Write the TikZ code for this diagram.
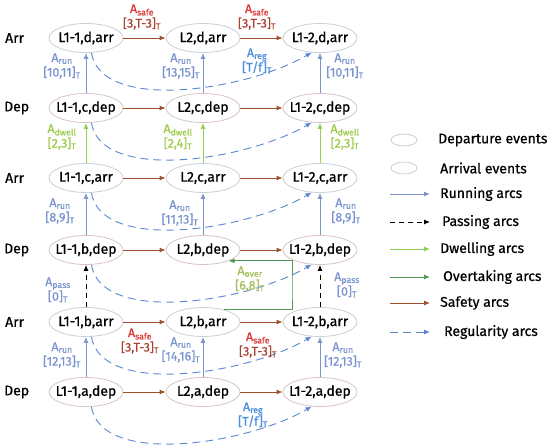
\documentclass[tikz,border=0pt]{standalone}
\usepackage{fontspec}
\setmainfont{Fira Sans}[FakeBold=0.7]
\usetikzlibrary{shapes.geometric,arrows.meta}
\definecolor{runc}{HTML}{7B94CE}
\definecolor{regc}{HTML}{5A86D2}
\definecolor{reglab}{HTML}{4F8FDB}
\definecolor{dwc}{HTML}{92D050}
\definecolor{dwlab}{HTML}{9CCB4A}
\definecolor{ovc}{HTML}{4E9A52}
\definecolor{ovlab}{HTML}{A2C05E}
\definecolor{safc}{HTML}{A0502D}
\definecolor{safA}{HTML}{D93A36}
\definecolor{safB}{HTML}{A8432F}
\definecolor{depc}{HTML}{D8C4C8}
\definecolor{arrc}{HTML}{C8D0DA}
\newcommand\arclab[4]{{\color{#1}A\textsubscript{#2}}\\{}{\color{#3}#4\textsubscript{T}}}
\newcommand\evt[1]{\makebox[0pt]{#1}}
\begin{document}
\begin{tikzpicture}[x=1pt,y=-1pt,
  ev/.style={ellipse, minimum width=74pt, minimum height=29pt, inner sep=0pt, fill=white, line width=0.8pt, font=\fontsize{14}{16}\selectfont},
  depn/.style={ev, draw=depc},
  arrn/.style={ev, draw=arrc},
  tipx/.style={-{Latex[length=6pt,width=5pt]}},
  runa/.style={draw=runc, line width=0.9pt, tipx},
  passa/.style={draw=black, line width=0.9pt, dash pattern=on 5pt off 4pt, tipx},
  dwa/.style={draw=dwc, line width=0.9pt, tipx},
  ova/.style={draw=ovc, line width=0.9pt, tipx},
  safa/.style={draw=safc, line width=0.9pt, tipx},
  rega/.style={draw=regc, line width=0.9pt, dash pattern=on 8pt off 5pt, tipx},
  lab/.style={align=center, font=\fontsize{12.5}{14.5}\selectfont, inner sep=0pt},
  rowlab/.style={anchor=west, font=\fontsize{14}{16}\selectfont, inner sep=0pt},
  legt/.style={anchor=west, font=\fontsize{14}{16}\selectfont, inner sep=0pt},
  legev/.style={ellipse, minimum width=26pt, minimum height=12pt, inner sep=0pt, line width=0.8pt}
]
\useasboundingbox (0,0) rectangle (550,447);

% row labels
\node[rowlab] (r1) at (5,38) {Arr};
\node[rowlab] (r2) at (4,108) {Dep};
\node[rowlab] (r3) at (5,178) {Arr};
\node[rowlab] (r4) at (4,250) {Dep};
\node[rowlab] (r5) at (5,322) {Arr};
\node[rowlab] (r6) at (4,392) {Dep};

% events
\node[arrn] (1d) at (86,38) {\evt{L1-1,d,arr}};
\node[arrn] (2d) at (203,38) {\evt{L2,d,arr}};
\node[arrn] (3d) at (320,38) {\evt{L1-2,d,arr}};
\node[depn] (1c) at (86,108) {\evt{L1-1,c,dep}};
\node[depn] (2c) at (203,108) {\evt{L2,c,dep}};
\node[depn] (3c) at (320,108) {\evt{L1-2,c,dep}};
\node[arrn] (1ca) at (86,178) {\evt{L1-1,c,arr}};
\node[arrn] (2ca) at (203,178) {\evt{L2,c,arr}};
\node[arrn] (3ca) at (320,178) {\evt{L1-2,c,arr}};
\node[depn] (1b) at (86,250) {\evt{L1-1,b,dep}};
\node[depn] (2b) at (203,250) {\evt{L2,b,dep}};
\node[depn] (3b) at (320,250) {\evt{L1-2,b,dep}};
\node[arrn] (1ba) at (86,322) {\evt{L1-1,b,arr}};
\node[arrn] (2ba) at (203,322) {\evt{L2,b,arr}};
\node[arrn] (3ba) at (320,322) {\evt{L1-2,b,arr}};
\node[depn] (1a) at (86,392) {\evt{L1-1,a,dep}};
\node[depn] (2a) at (203,392) {\evt{L2,a,dep}};
\node[depn] (3a) at (320,392) {\evt{L1-2,a,dep}};

% regularity arcs
\foreach \r in {d,c,ca,b,ba,a}{
  \draw[rega] (1\r.-70) .. controls +(10,60) and +(-65,38) .. (3\r.-120);
}

% safety arcs
\foreach \r in {d,c,ca,b,ba,a}{
  \draw[safa] (1\r.east) -- (2\r.west);
  \draw[safa] (2\r.east) -- (3\r.west);
}

% running and dwelling arcs
\foreach \c in {1,2,3}{
  \draw[runa] (\c c.north) -- (\c d.south);
  \draw[runa] (\c b.north) -- (\c ca.south);
  \draw[runa] (\c a.north) -- (\c ba.south);
  \draw[dwa] (\c ca.north) -- (\c c.south);
}

% passing arcs
\draw[passa] (1ba.north) -- (1b.south);
\draw[passa] (3ba.north) -- (3b.south);

% overtaking arc
\coordinate (ovx) at (292,290);
\draw[ova] (2ba.31) -| (ovx) |- (2b.-23);

% labels
\node[lab] (ls1) at (142,17) {\arclab{safA}{safe}{safB}{[3,T-3]}};
\node[lab] (ls2) at (257,17) {\arclab{safA}{safe}{safB}{[3,T-3]}};
\node[lab] (lr1) at (62,66) {\arclab{runc}{run}{runc}{[10,11]}};
\node[lab] (lr2) at (181,66) {\arclab{runc}{run}{runc}{[13,15]}};
\node[lab] (lr3) at (345,66) {\arclab{runc}{run}{runc}{[10,11]}};
\node[lab] (lg1) at (257,61) {\arclab{reglab}{reg}{reglab}{[T/f]}};
\node[lab] (lw1) at (62,137) {\arclab{dwlab}{dwell}{dwlab}{[2,3]}};
\node[lab] (lw2) at (178,137) {\arclab{dwlab}{dwell}{dwlab}{[2,4]}};
\node[lab] (lw3) at (345,137) {\arclab{dwlab}{dwell}{dwlab}{[2,3]}};
\node[lab] (lr4) at (60,211) {\arclab{runc}{run}{runc}{[8,9]}};
\node[lab] (lr5) at (180,213) {\arclab{runc}{run}{runc}{[11,13]}};
\node[lab] (lr6) at (346,211) {\arclab{runc}{run}{runc}{[8,9]}};
\node[lab] (lp1) at (58,290) {\arclab{runc}{pass}{runc}{[0]}};
\node[lab] (lp2) at (347,285) {\arclab{runc}{pass}{runc}{[0]}};
\node[lab] (lo1) at (250,279) {\arclab{ovlab}{over}{ovlab}{[6,8]}};
\node[lab] (ls3) at (140,341) {\arclab{safA}{safe}{safB}{[3,T-3]}};
\node[lab] (ls4) at (258,345) {\arclab{safA}{safe}{safB}{[3,T-3]}};
\node[lab] (lr7) at (62,355) {\arclab{runc}{run}{runc}{[12,13]}};
\node[lab] (lr8) at (181,350) {\arclab{runc}{run}{runc}{[14,16]}};
\node[lab] (lr9) at (343,355) {\arclab{runc}{run}{runc}{[12,13]}};
\node[lab] (lg2) at (253,415) {\arclab{reglab}{reg}{reglab}{[T/f]}};

% legend
\node[legev, draw=depc] (le1) at (404,140) {};
\node[legt] (lt1) at (438,140) {Departure events};
\node[legev, draw=arrc] (le2) at (404,168) {};
\node[legt] (lt2) at (440,168) {Arrival events};
\coordinate (la3) at (390,194); \coordinate (lb3) at (430,194);
\draw[runa] (la3) -- (lb3);
\node[legt] (lt3) at (440,194) {Running arcs};
\coordinate (la4) at (390,222); \coordinate (lb4) at (430,222);
\draw[passa] (la4) -- (lb4);
\node[legt] (lt4) at (442,222) {Passing arcs};
\coordinate (la5) at (390,249); \coordinate (lb5) at (430,249);
\draw[dwa] (la5) -- (lb5);
\node[legt] (lt5) at (440,249) {Dwelling arcs};
\coordinate (la6) at (390,277); \coordinate (lb6) at (430,277);
\draw[ova] (la6) -- (lb6);
\node[legt] (lt6) at (443,277) {Overtaking arcs};
\coordinate (la7) at (390,303); \coordinate (lb7) at (430,303);
\draw[safa] (la7) -- (lb7);
\node[legt] (lt7) at (440,303) {Safety arcs};
\coordinate (la8) at (390,332); \coordinate (lb8) at (430,332);
\draw[rega] (la8) -- (lb8);
\node[legt] (lt8) at (444,332) {Regularity arcs};
\end{tikzpicture}
\end{document}
